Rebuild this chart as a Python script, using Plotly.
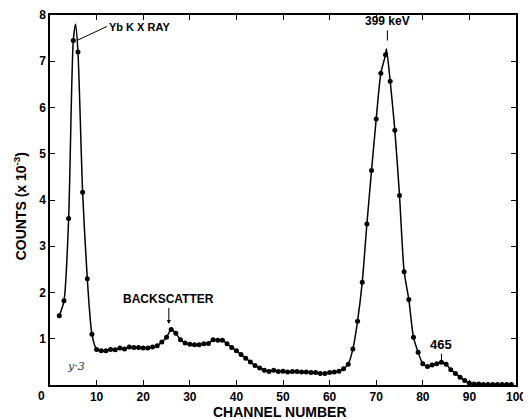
import plotly.graph_objects as go

# Measured points (channel, counts x 10^-3)
channels = list(range(2, 100))
counts = [
    1.50, 1.82, 3.60, 7.45, 7.20, 4.17, 2.30, 1.10,            # 2-9
    0.77, 0.74, 0.74, 0.77, 0.76, 0.80, 0.78, 0.82, 0.81, 0.81,  # 10-19
    0.80, 0.80, 0.82, 0.85, 0.93, 1.03, 1.20, 1.12, 0.98, 0.91,  # 20-29
    0.88, 0.87, 0.87, 0.89, 0.90, 0.98, 0.97, 0.97, 0.89, 0.81,  # 30-39
    0.74, 0.66, 0.58, 0.50, 0.42, 0.37, 0.32, 0.29, 0.32, 0.29,  # 40-49
    0.30, 0.28, 0.29, 0.29, 0.28, 0.28, 0.27, 0.27, 0.25, 0.25,  # 50-59
    0.27, 0.28, 0.30, 0.35, 0.45, 0.78, 1.38, 2.22, 3.48, 4.64,  # 60-69
    5.75, 6.74, 7.14, 6.57, 5.51, 4.10, 2.45, 1.85, 1.03, 0.71,  # 70-79
    0.46, 0.40, 0.43, 0.46, 0.49, 0.45, 0.33, 0.25, 0.17, 0.10,  # 80-89
    0.04, 0.02, 0.02, 0.01, 0.01, 0.01, 0.01, 0.01, 0.01, 0.01,  # 90-99
]

# Hand-drawn fitted curve: the points plus the drawn peak tops
peak_channels = [5.5, 72.2]
peak_counts = [7.80, 7.27]
fit = sorted(list(zip(channels, counts)) + list(zip(peak_channels, peak_counts)))
fit_channel = [p[0] for p in fit]
fit_counts = [p[1] for p in fit]

x_ticks = [10, 20, 30, 40, 50, 60, 70, 80, 90, 100]
x_tick_labels = ["10", "20", "30", "40", "50", "60", "70", "80", "90", "100"]
y_ticks = [1, 2, 3, 4, 5, 6, 7, 8]
y_tick_labels = ["1", "2", "3", "4", "5", "6", "7", "8"]

FONT = "Liberation Sans"

fig = go.Figure()
fig.add_trace(go.Scatter(
    x=fit_channel, y=fit_counts, mode="lines",
    line=dict(color="black", width=1.5, shape="spline", smoothing=0.7),
    hoverinfo="skip", showlegend=False,
))
fig.add_trace(go.Scatter(
    x=channels, y=counts, mode="markers",
    marker=dict(color="black", size=5),
    showlegend=False,
))

axis_common = dict(
    showgrid=False, zeroline=False, showline=True, linecolor="black",
    linewidth=1.5, mirror="ticks", ticks="inside", ticklen=5, tickwidth=1.2,
    tickcolor="black", automargin=False,
    tickfont=dict(family=FONT, size=12, color="black", weight="bold"),
)

# page body has an 8px default margin, so the figure is sized to fit inside it
fig.update_layout(
    width=523, height=411,
    margin=dict(l=42, r=15, t=7, b=34),
    paper_bgcolor="white", plot_bgcolor="white",
    xaxis=dict(range=[0, 100], tickvals=x_ticks, ticktext=x_tick_labels, **axis_common),
    yaxis=dict(range=[0, 8], tickvals=y_ticks, ticktext=y_tick_labels, **axis_common),
    font=dict(family=FONT, color="black"),
)

bold = lambda s: dict(family=FONT, size=s, color="black", weight="bold")

annotations = [
    dict(x=0, y=0, xref="x", yref="y", text="0", showarrow=False,
         xanchor="right", yanchor="top", xshift=-3, yshift=-2, font=bold(12)),
    dict(x=0.494, y=-0.072, xref="paper", yref="paper", text="CHANNEL NUMBER",
         showarrow=False, xanchor="center", yanchor="middle", font=bold(14)),
    dict(x=-0.065, y=0.482, xref="paper", yref="paper",
         text="COUNTS (x 10<sup>-3</sup>)", textangle=-90, showarrow=False,
         xanchor="center", yanchor="middle", font=bold(14)),
    dict(x=6.0, y=7.46, ax=12.2, ay=7.75, xref="x", yref="y", axref="x", ayref="y",
         text="Yb K X RAY", showarrow=True, arrowhead=0, arrowwidth=1,
         arrowcolor="black", xanchor="left", yanchor="middle", font=bold(11)),
    dict(x=72.4, y=7.45, xref="x", yref="y", text="399 keV", showarrow=True,
         ax=0, ay=-10, arrowhead=0, arrowwidth=1, arrowcolor="black",
         yanchor="bottom", font=bold(12)),
    dict(x=25.5, y=1.32, xref="x", yref="y", text="BACKSCATTER", showarrow=True,
         ax=0, ay=-16, arrowhead=2, arrowsize=0.8, arrowwidth=1, arrowcolor="black",
         yanchor="bottom", font=bold(12)),
    dict(x=84.0, y=0.46, xref="x", yref="y", text="465", showarrow=True,
         ax=0, ay=-10, arrowhead=0, arrowwidth=1, arrowcolor="black",
         yanchor="bottom", font=bold(13)),
    dict(x=5.5, y=0.4, xref="x", yref="y", text="y·3", showarrow=False,
         xanchor="center", yanchor="middle",
         font=dict(family="DejaVu Serif", size=11, color="#333", style="italic")),
]
fig.update_layout(annotations=annotations)

fig.write_html("out.html")
